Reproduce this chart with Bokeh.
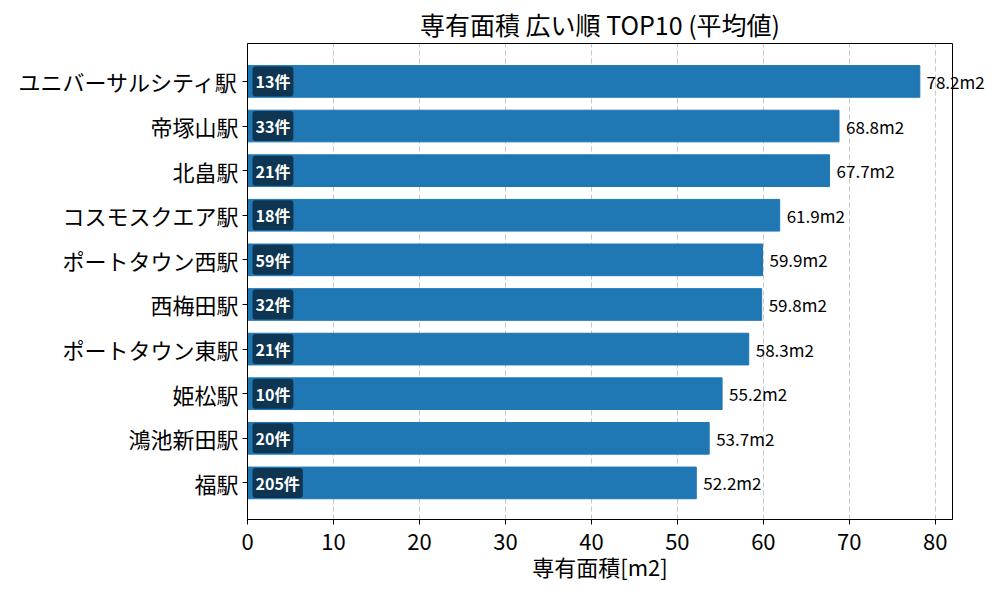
from bokeh.plotting import figure
from bokeh.models import Range1d, FixedTicker, ColumnDataSource, LinearAxis
from bokeh.core.properties import value
from bokeh.embed import file_html
from bokeh.resources import INLINE

# data (top to bottom as displayed)
stations = ["ユニバーサルシティ駅", "帝塚山駅", "北畠駅", "コスモスクエア駅", "ポートタウン西駅",
            "西梅田駅", "ポートタウン東駅", "姫松駅", "鴻池新田駅", "福駅"]
area = [78.2, 68.8, 67.7, 61.9, 59.9, 59.8, 58.3, 55.2, 53.7, 52.2]
counts = [13, 33, 21, 18, 59, 32, 21, 10, 20, 205]
x_ticks = [0, 10, 20, 30, 40, 50, 60, 70, 80]

FONT = "Noto Sans CJK JP"
XMAX = 82
W, H = 992, 584
LEFT, RIGHT, TOP, BOTTOM = 247, 40, 43, 62
LBL_GAP = 7

n = len(stations)
ypos = [n - 1 - i for i in range(n)]
area_lbl = ["%.1fm2" % v for v in area]

# the longest bar's label runs past the frame, so it goes on a right axis (not clipped)
top_i = area.index(max(area))
inside = [i for i in range(n) if i != top_i]

src = ColumnDataSource(dict(
    y=ypos,
    area=area,
    cnt_lbl=["%d件" % c for c in counts],
    zero=[0] * n,
))
lbl_src = ColumnDataSource(dict(
    y=[ypos[i] for i in inside],
    area=[area[i] for i in inside],
    lbl=[area_lbl[i] for i in inside],
))

p = figure(
    width=W, height=H,
    x_range=Range1d(0, XMAX), y_range=Range1d(-0.82, 9.85),
    output_backend="svg", toolbar_location=None, tools="",
    min_border_left=LEFT, min_border_right=RIGHT, min_border_top=TOP, min_border_bottom=BOTTOM,
    title="専有面積 広い順 TOP10 (平均値)",
)

p.hbar(y="y", right="area", left=0, height=0.71, source=src, color="#1f77b4")

# value labels right of the bars
p.text(x="area", y="y", text="lbl", source=lbl_src, x_offset=LBL_GAP,
       text_align="left", text_baseline="middle",
       text_font=value(FONT), text_font_size="17px", text_color="black")

px_per_unit = (W - LEFT - RIGHT) / XMAX
overflow = LinearAxis(
    ticker=FixedTicker(ticks=[ypos[top_i]]),
    major_label_overrides={ypos[top_i]: area_lbl[top_i]},
    axis_line_color=None, major_tick_line_color=None, minor_tick_line_color=None,
    major_tick_out=0, major_tick_in=0,
    major_label_standoff=-round((XMAX - area[top_i]) * px_per_unit - LBL_GAP),
    major_label_text_font=FONT, major_label_text_font_size="17px",
    major_label_text_color="black", major_label_text_align="left",
)
p.add_layout(overflow, "right")

# count badges inside the bars
p.text(x="zero", y="y", text="cnt_lbl", source=src, x_offset=5,
       text_align="left", text_baseline="middle",
       text_font=value(FONT), text_font_size="16px", text_font_style="bold",
       text_color="white",
       background_fill_color="black", background_fill_alpha=0.55,
       border_radius=3, padding=3)

# title
p.title.text_font = FONT
p.title.text_font_size = "25px"
p.title.text_font_style = "normal"
p.title.text_color = "black"
p.title.align = "center"
p.title.standoff = 4

# axes
p.xaxis[0].ticker = FixedTicker(ticks=x_ticks)
p.yaxis[0].ticker = FixedTicker(ticks=ypos)
p.yaxis[0].major_label_overrides = {y: s for y, s in zip(ypos, stations)}
for ax in (p.xaxis[0], p.yaxis[0]):
    ax.major_label_text_font = FONT
    ax.major_label_text_font_size = "22px"
    ax.major_label_text_color = "black"
    ax.axis_line_color = "black"
    ax.major_tick_line_color = "black"
    ax.major_tick_out = 5
    ax.major_tick_in = 0
    ax.minor_tick_line_color = None
p.xaxis[0].major_label_standoff = 9
p.yaxis[0].major_label_standoff = 4
p.xaxis[0].axis_label = "専有面積[m2]"
p.xaxis[0].axis_label_text_font = FONT
p.xaxis[0].axis_label_text_font_size = "22px"
p.xaxis[0].axis_label_text_font_style = "normal"
p.xaxis[0].axis_label_text_color = "black"
p.xaxis[0].axis_label_standoff = -3

# grid
p.ygrid.grid_line_color = None
p.xgrid.grid_line_color = "#b0b0b0"
p.xgrid.grid_line_alpha = 0.7
p.xgrid.grid_line_dash = "5 3"

p.outline_line_color = "black"
p.outline_line_alpha = 1.0

open("out.html", "w").write(file_html(p, INLINE))
